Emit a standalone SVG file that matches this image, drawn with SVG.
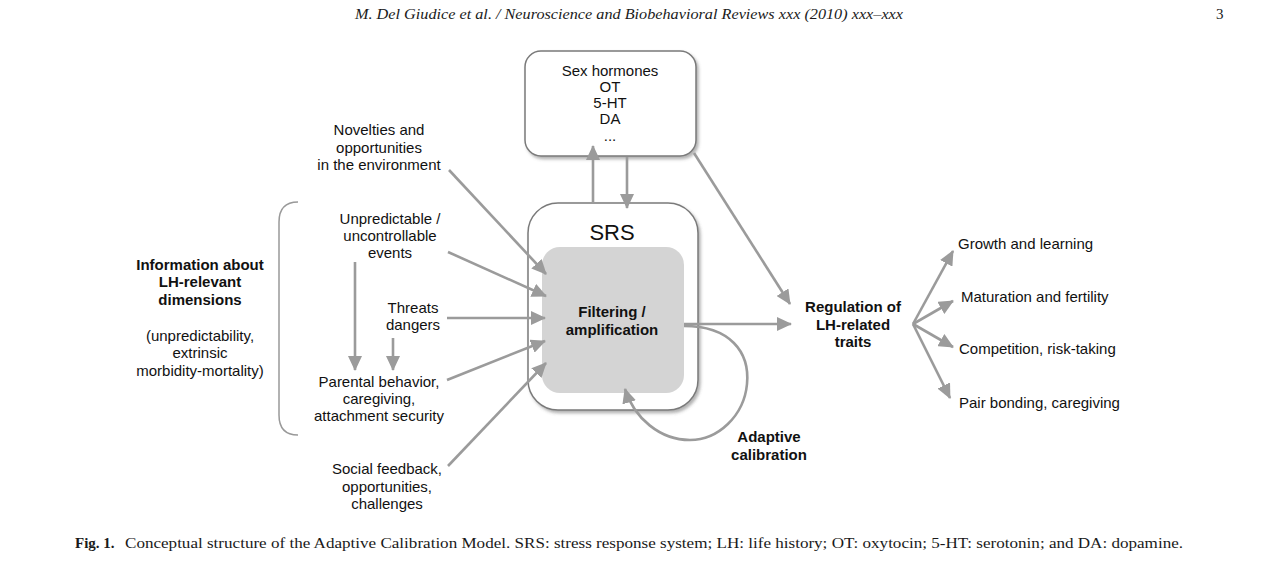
<svg xmlns="http://www.w3.org/2000/svg" width="1263" height="569" viewBox="0 0 1263 569">
<style>
.t{font-family:"Liberation Sans",Arial,sans-serif;font-size:15px;fill:#111;text-anchor:middle}
.b{font-weight:bold}
.l{text-anchor:start}
.c{stroke:#9b9b9b;stroke-width:2.6;fill:none}
.hdr{font-family:"Liberation Serif","Times New Roman",serif;font-size:15px;fill:#1a1a1a}
</style>
<defs>
<marker id="ah" markerUnits="userSpaceOnUse" markerWidth="16" markerHeight="14" refX="14" refY="7" orient="auto">
<path d="M0,0 L15,7 L0,14 z" fill="#9b9b9b"/>
</marker>
<filter id="sh" x="-10%" y="-10%" width="125%" height="125%">
<feDropShadow dx="2" dy="2.5" stdDeviation="1.5" flood-color="#555" flood-opacity="0.45"/>
</filter>
</defs>
<rect width="1263" height="569" fill="#fff"/>
<text class="hdr" x="355" y="19" font-style="italic" textLength="548" lengthAdjust="spacingAndGlyphs">M. Del Giudice et al. / Neuroscience and Biobehavioral Reviews xxx (2010) xxx–xxx</text>
<text class="hdr" x="1216" y="19">3</text>

<g id="hormones">
<rect x="525" y="51" width="171" height="105" rx="16" fill="#fff" stroke="#7a7a7a" stroke-width="1.5" filter="url(#sh)"/>
<text class="t" x="610" y="76">Sex hormones</text>
<text class="t" x="610" y="92">OT</text>
<text class="t" x="610" y="108">5-HT</text>
<text class="t" x="610" y="124">DA</text>
<text class="t" x="610" y="141">...</text>
</g>
<g id="srs">
<rect x="528" y="203" width="170" height="207" rx="30" fill="#fff" stroke="#7a7a7a" stroke-width="1.5" filter="url(#sh)"/>
<text class="t" x="612" y="240" style="font-size:22px">SRS</text>
<rect x="542" y="247" width="142" height="146" rx="18" fill="#d4d4d4"/>
<text class="t b" x="612" y="317">Filtering /</text>
<text class="t b" x="612" y="335">amplification</text>
</g>
<g id="info">
<path d="M298,202 Q279,202 279,222 L279,415 Q279,435 298,435" fill="none" stroke="#999" stroke-width="1.5"/>
<text class="t b" x="200" y="270">Information about</text>
<text class="t b" x="200" y="287">LH-relevant</text>
<text class="t b" x="200" y="305">dimensions</text>
<text class="t" x="200" y="341">(unpredictability,</text>
<text class="t" x="200" y="358">extrinsic</text>
<text class="t" x="200" y="376">morbidity-mortality)</text>
</g>
<g id="novelties">
<text class="t" x="379" y="135">Novelties and</text>
<text class="t" x="379" y="153">opportunities</text>
<text class="t" x="379" y="170">in the environment</text>
</g>
<g id="unpredictable">
<text class="t" x="390" y="224">Unpredictable /</text>
<text class="t" x="390" y="241">uncontrollable</text>
<text class="t" x="390" y="258">events</text>
</g>
<g id="threats">
<text class="t" x="413" y="313">Threats</text>
<text class="t" x="413" y="330">dangers</text>
</g>
<g id="parental">
<text class="t" x="379" y="387">Parental behavior,</text>
<text class="t" x="379" y="404">caregiving,</text>
<text class="t" x="379" y="421">attachment security</text>
</g>
<g id="social">
<text class="t" x="387" y="474">Social feedback,</text>
<text class="t" x="387" y="492">opportunities,</text>
<text class="t" x="387" y="509">challenges</text>
</g>
<g id="regulation">
<text class="t b" x="853" y="312">Regulation of</text>
<text class="t b" x="853" y="330">LH-related</text>
<text class="t b" x="853" y="347">traits</text>
</g>
<g id="adaptive">
<text class="t b" x="769" y="442">Adaptive</text>
<text class="t b" x="769" y="460">calibration</text>
</g>
<g id="outcomes">
<text class="t l" x="958" y="249">Growth and learning</text>
<text class="t l" x="961" y="302">Maturation and fertility</text>
<text class="t l" x="959" y="354">Competition, risk-taking</text>
<text class="t l" x="959" y="408">Pair bonding, caregiving</text>
</g>

<g id="connectors">
<line class="c" x1="593" y1="203" x2="593" y2="146" marker-end="url(#ah)"/>
<line class="c" x1="627" y1="157" x2="627" y2="208" marker-end="url(#ah)"/>
<line class="c" x1="449" y1="170" x2="546" y2="274" marker-end="url(#ah)"/>
<line class="c" x1="448" y1="252" x2="546" y2="296" marker-end="url(#ah)"/>
<line class="c" x1="447" y1="318" x2="545" y2="318" marker-end="url(#ah)"/>
<line class="c" x1="447" y1="380" x2="545" y2="341" marker-end="url(#ah)"/>
<line class="c" x1="448" y1="466" x2="546" y2="363" marker-end="url(#ah)"/>
<line class="c" x1="355" y1="262" x2="355" y2="370" marker-end="url(#ah)"/>
<line class="c" x1="393" y1="338" x2="393" y2="370" marker-end="url(#ah)"/>
<line class="c" x1="694" y1="153" x2="790" y2="304" marker-end="url(#ah)"/>
<line class="c" x1="684" y1="324" x2="791" y2="324" marker-end="url(#ah)"/>
<path class="c" d="M684,326 C730,326 750,352 747,384 C744,416 718,440 690,440 C660,440 634,418 625,389" marker-end="url(#ah)"/>
<line class="c" x1="913" y1="324" x2="953" y2="251" marker-end="url(#ah)"/>
<line class="c" x1="913" y1="324" x2="953" y2="301" marker-end="url(#ah)"/>
<line class="c" x1="913" y1="324" x2="953" y2="347" marker-end="url(#ah)"/>
<line class="c" x1="913" y1="324" x2="950" y2="398" marker-end="url(#ah)"/>
</g>

<text class="hdr" x="75" y="548"><tspan font-weight="bold">Fig. 1.</tspan></text>
<text class="hdr" x="125" y="548" textLength="1058" lengthAdjust="spacingAndGlyphs">Conceptual structure of the Adaptive Calibration Model. SRS: stress response system; LH: life history; OT: oxytocin; 5-HT: serotonin; and DA: dopamine.</text>
</svg>
